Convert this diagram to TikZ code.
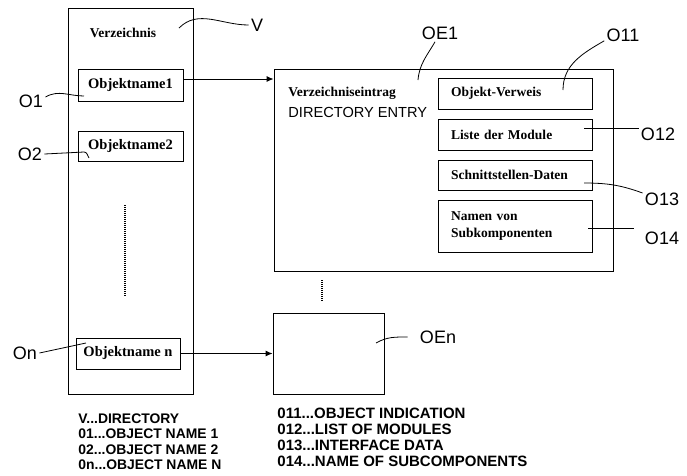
\documentclass[tikz,border=0pt]{standalone}
\usepackage{fontspec}
\setmainfont{Liberation Serif}
\newfontfamily\labfont{Liberation Sans}
\usetikzlibrary{arrows.meta}

\begin{document}
\begin{tikzpicture}[x=1pt,y=-1pt,>={Latex[length=7pt,width=6pt]},line width=0.9pt,
  box/.style={draw,inner sep=0pt},
  namebox/.style={box,minimum width=105pt,minimum height=31pt,
    font=\fontsize{14.5}{15}\selectfont\bfseries},
  partbox/.style={box,text width=128pt,inner xsep=13pt,minimum height=31pt,align=left,
    font=\fontsize{13.5}{17}\selectfont\bfseries},
  lab/.style={inner sep=2pt,font=\labfont\fontsize{18}{20}\selectfont},
  leader/.style={line width=0.8pt},
  legend/.style={anchor=north west,inner sep=0pt,align=left},
  dots/.style={line width=1.4pt,dash pattern=on 1pt off 1pt}]
\useasboundingbox (0,0) rectangle (687,475);
%directory
\node[box,minimum width=125pt,minimum height=386pt] (dir) at (130.5,201) {};
\node[font=\fontsize{13.5}{15}\selectfont\bfseries] (dirtitle) at (123,33) {Verzeichnis};
%object names
\node[namebox,minimum height=32pt] (obj1) at (130.5,85) {Objektname1};
\node[namebox,minimum height=30pt] (obj2) at (130.5,146) {Objektname2};
\node[namebox,minimum width=104pt] (objn) at (128,353.5) {Objektname n};
\coordinate (dotstop) at (125,205);
\coordinate (dotsbot) at (125,297);
\draw[dots] (dotstop) -- (dotsbot);
%directory entry
\node[box,minimum width=339pt,minimum height=202pt] (oe1) at (443.5,170) {};
\node[anchor=west,inner sep=0pt,font=\fontsize{13.5}{15}\selectfont\bfseries]
  (oe1title) at (288,93) {Verzeichniseintrag};
\node[anchor=west,inner sep=0pt,font=\labfont\fontsize{14.6}{16}\selectfont]
  (oe1eng) at (288,112) {DIRECTORY ENTRY};
\node[partbox] (oe11) at (515,93.5) {Objekt-Verweis};
\node[partbox] (oe12) at (515,134.5) {Liste der Module};
\node[partbox,minimum height=30pt] (oe13) at (515,175) {Schnittstellen-Daten};
\node[partbox,minimum height=52pt] (oe14) at (515,226) {Namen von\\Subkomponenten};
%last entry
\node[box,minimum width=111pt,minimum height=81pt] (oen) at (328.5,353.5) {};
\coordinate (edotstop) at (322,280);
\coordinate (edotsbot) at (322,302);
\draw[dots] (edotstop) -- (edotsbot);
%links
\draw[->] ([yshift=6pt]obj1.east) -- ([yshift=6pt]obj1.east -| oe1.west);
\draw[->] (objn.east) -- (objn.east -| oen.west);
%labels
\node[lab] (vlab) at (257,25) {V};
\coordinate (vend) at (179,28);
\draw[leader] (vend) to[out=45,in=180] (vlab.west);
\node[lab] (o1lab) at (31,101) {O1};
\coordinate (o1end) at (84,96);
\draw[leader] ([yshift=4pt]o1lab.east) to[out=30,in=180] (o1end);
\node[lab] (o2lab) at (30,154) {O2};
\coordinate (o2end) at (89,158);
\draw[leader] (o2lab.east) -- (84,152) to[out=0,in=120] (o2end);
\node[lab] (onlab) at (25,353) {On};
\coordinate (onend) at (86,343);
\draw[leader] (onlab.east) -- (onend);
\node[lab] (oe1lab) at (440,33) {OE1};
\coordinate (oe1end) at (418,80);
\draw[leader] (oe1end) to[out=85,in=240] ([xshift=-5pt]oe1lab.south);
\node[lab] (o11lab) at (623,35) {O11};
\coordinate (o11end) at (563,90);
\draw[leader] (o11end) to[out=90,in=210] ([yshift=3pt]o11lab.south west);
\node[lab] (o12lab) at (658,134) {O12};
\coordinate (o12end) at (584,128);
\draw[leader] (o12end) -- ([yshift=6pt]o12lab.west);
\node[lab] (o13lab) at (662,199) {O13};
\coordinate (o13end) at (584,183);
\draw[leader] (o13end) to[out=0,in=160] ([yshift=6pt]o13lab.west);
\node[lab] (o14lab) at (662,238) {O14};
\coordinate (o14end) at (588,228);
\draw[leader] (o14end) -- ([xshift=-9pt,yshift=10pt]o14lab.west);
\node[lab] (oenlab) at (438,337) {OEn};
\coordinate (oenend) at (376,343);
\draw[leader] (oenend) to[out=30,in=180] ([xshift=-10pt]oenlab.west);
%legends
\node[legend,font=\labfont\bfseries\fontsize{13.9}{15.5}\selectfont] (leftkey) at (78,413)
  {V...DIRECTORY\\01...OBJECT NAME 1\\02...OBJECT NAME 2\\0n...OBJECT NAME N};
\node[legend,font=\labfont\bfseries\fontsize{15}{16}\selectfont] (rightkey) at (277,408)
  {011...OBJECT INDICATION\\012...LIST OF MODULES\\013...INTERFACE DATA\\014...NAME OF SUBCOMPONENTS};
\end{tikzpicture}
\end{document}
